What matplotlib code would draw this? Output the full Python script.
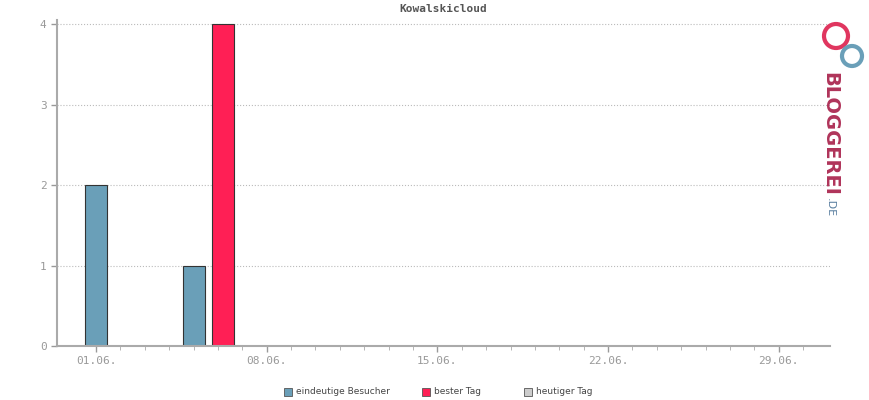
import matplotlib
matplotlib.use("Agg")
import matplotlib.pyplot as plt
from matplotlib.patches import Ellipse
import numpy as np

days = np.arange(0, 30)
visitors = np.zeros(30)
visitors[0] = 2
visitors[4] = 1
best_day = np.zeros(30)
best_day[5] = 4
tick_labels = ["01.06.", "08.06.", "15.06.", "22.06.", "29.06."]

fig = plt.figure(figsize=(8.7, 4.0), dpi=100)
ax = fig.add_axes([57 / 870, 54 / 400, 773 / 870, 326 / 400])
ax.set_title("Kowalskicloud", fontsize=8, family="DejaVu Sans Mono",
             fontweight="bold", color="#555555", pad=6)

m = visitors > 0
ax.bar(days[m], visitors[m], width=0.9, color="#6a9fb8", edgecolor="#333333", linewidth=0.8)
m = best_day > 0
ax.bar(days[m] + 0.2, best_day[m], width=0.9, color="#ff1f55", edgecolor="#333333", linewidth=0.8)

ax.set_xlim(-1.6, 30.1)
ax.set_ylim(0, 4.05)
ax.set_yticks([0, 1, 2, 3, 4])
ax.set_xticks([0, 7, 14, 21, 28])
ax.set_xticklabels(tick_labels)
ax.set_xticks(np.arange(0, 30), minor=True)
ax.grid(axis="y", linestyle=":", color="#bbbbbb", linewidth=0.8)
ax.set_axisbelow(True)
for s in ["top", "right"]:
    ax.spines[s].set_visible(False)
for s in ["left", "bottom"]:
    ax.spines[s].set_color("#aaaaaa")
    ax.spines[s].set_linewidth(1.5)
ax.tick_params(colors="#999999", labelsize=8, length=4, width=1)
ax.tick_params(which="minor", colors="#aaaaaa", length=3)
for lab in ax.get_xticklabels() + ax.get_yticklabels():
    lab.set_family("DejaVu Sans Mono")
    lab.set_color("#999999")

# legend
items = [("eindeutige Besucher", "#6a9fb8", 284), ("bester Tag", "#ff1f55", 422), ("heutiger Tag", "#cccccc", 524)]
for text, col, x in items:
    fig.patches.append(plt.Rectangle((x / 870, 1 - 396 / 400), 8 / 870, 8 / 400,
                                     transform=fig.transFigure, facecolor=col,
                                     edgecolor="#555555", linewidth=0.6))
    fig.text((x + 12) / 870, 1 - 392 / 400, text, fontsize=6.5, color="#444444", va="center")

# logo
fig.patches.append(Ellipse((836 / 870, 1 - 36 / 400), 24 / 870, 24 / 400,
                   transform=fig.transFigure, fill=False, edgecolor="#e0365f", linewidth=3))
fig.patches.append(Ellipse((852 / 870, 1 - 56 / 400), 20 / 870, 20 / 400,
                   transform=fig.transFigure, fill=False, edgecolor="#6a9fb8", linewidth=3))
fig.text(830 / 870, 1 - 72 / 400, "BLOGGEREI", rotation=-90, fontsize=14, fontweight="bold",
         color="#b0345a", ha="center", va="top")
fig.text(830 / 870, 1 - 198 / 400, ".DE", rotation=-90, fontsize=8, color="#5a7fa0",
         ha="center", va="top")

fig.savefig("out.png", dpi=100)
